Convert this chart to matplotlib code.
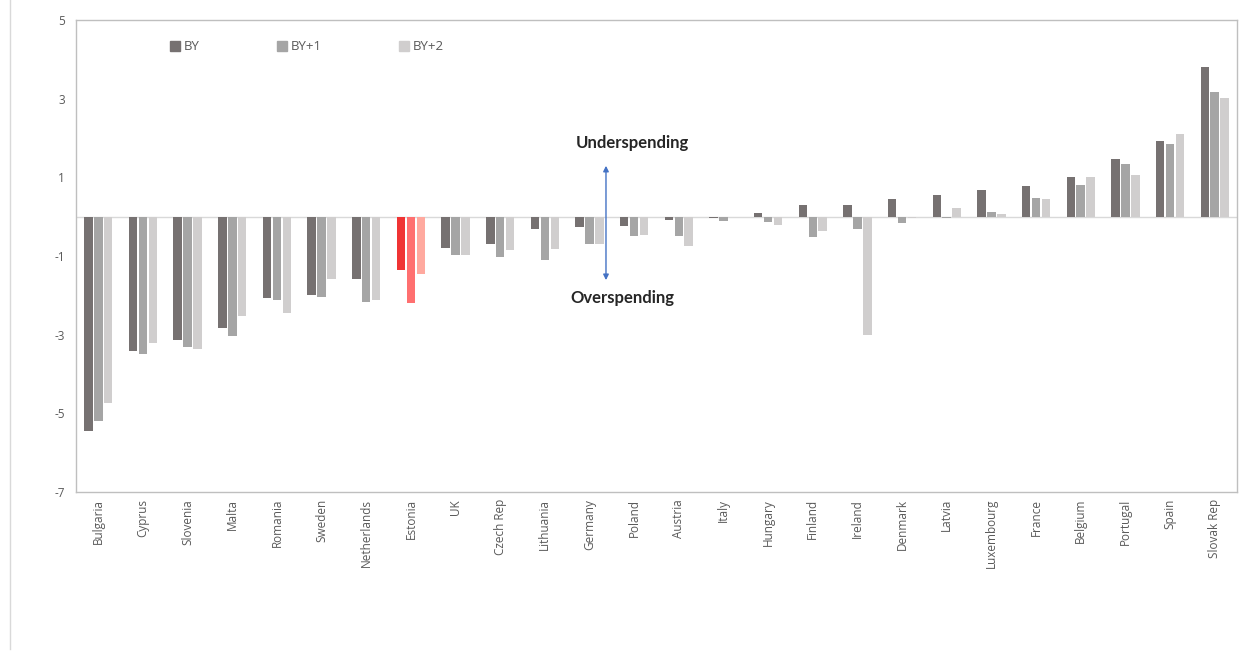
import numpy as np
import matplotlib.pyplot as plt
from matplotlib.lines import Line2D

countries = ['Bulgaria', 'Cyprus', 'Slovenia', 'Malta', 'Romania', 'Sweden', 'Netherlands',
             'Estonia', 'UK', 'Czech Rep', 'Lithuania', 'Germany', 'Poland', 'Austria', 'Italy',
             'Hungary', 'Finland', 'Ireland', 'Denmark', 'Latvia', 'Luxembourg', 'France',
             'Belgium', 'Portugal', 'Spain', 'Slovak Rep']
by = [-5.45, -3.42, -3.14, -2.83, -2.08, -2.00, -1.58, -1.36, -0.80, -0.69, -0.31, -0.26, -0.24,
      -0.09, -0.04, 0.09, 0.30, 0.30, 0.46, 0.54, 0.68, 0.79, 1.02, 1.47, 1.93, 3.80]
by1 = [-5.20, -3.50, -3.31, -3.03, -2.13, -2.05, -2.16, -2.20, -0.98, -1.02, -1.10, -0.69, -0.48,
       -0.50, -0.12, -0.13, -0.52, -0.32, -0.16, -0.04, 0.12, 0.48, 0.81, 1.35, 1.85, 3.16]
by2 = [-4.75, -3.20, -3.37, -2.53, -2.44, -1.58, -2.13, -1.46, -0.98, -0.84, -0.82, -0.69, -0.46,
       -0.74, 0.00, -0.21, -0.37, -3.00, -0.04, 0.23, 0.07, 0.45, 1.02, 1.07, 2.10, 3.02]
series_names = ['BY', 'BY+1', 'BY+2']
highlight = 'Estonia'

grey_cols = ['#767171', '#A5A5A5', '#D0CECE']
red_cols = ['#F03434', '#FF7070', '#FFA99F']

plt.rcParams['font.family'] = ['Open Sans', 'DejaVu Sans']
plt.rcParams['axes.unicode_minus'] = False

fig = plt.figure(figsize=(12.58, 6.69), dpi=100)
ax = fig.add_axes([0.0604, 0.2646, 0.9229, 0.7055])

x = np.arange(len(countries))
step = 0.222
w = 0.19
for i, vals in enumerate([by, by1, by2]):
    cols = [red_cols[i] if c == highlight else grey_cols[i] for c in countries]
    ax.bar(x + (i - 1) * step, vals, width=w, color=cols, zorder=3)

ax.set_xlim(-0.5, len(countries) - 0.5)
ax.set_ylim(-7, 5)
ax.set_yticks(np.arange(-7, 6, 2))
ax.set_xticks(x)
ax.set_xticklabels(countries, rotation=90, va='top')
ax.tick_params(axis='x', length=0, pad=5, labelsize=8.5, labelcolor='#595959')
ax.tick_params(axis='y', length=0, pad=8, labelsize=8.5, labelcolor='#595959')
for s in ax.spines.values():
    s.set_color('#BFBFBF')
    s.set_linewidth(1.0)
ax.axhline(0, color='#D9D9D9', lw=1, zorder=2)

handles = [Line2D([], [], marker='s', ls='none', color=c, markersize=6.5) for c in grey_cols]
ax.legend(handles, series_names, loc='upper left', bbox_to_anchor=(0.071, 0.982), ncol=3,
          frameon=False, fontsize=9.5, handletextpad=0.3, columnspacing=5.9,
          handlelength=0.7, labelcolor='#595959')

ax.annotate('', xy=(0.4565, 0.697), xytext=(0.4565, 0.443), xycoords='axes fraction',
            arrowprops=dict(arrowstyle='<|-|>', color='#4472C4', lw=1, mutation_scale=8))
ax.text(0.479, 0.739, 'Underspending', transform=ax.transAxes, ha='center', va='center',
        fontsize=12, fontweight='bold', family=['Lato', 'DejaVu Sans'], color='#262626')
ax.text(0.471, 0.411, 'Overspending', transform=ax.transAxes, ha='center', va='center',
        fontsize=12, fontweight='bold', family=['Lato', 'DejaVu Sans'], color='#262626')

fig.add_artist(Line2D([0.008, 0.008], [0.03, 1.0], transform=fig.transFigure,
                      color='#D9D9D9', lw=1))

fig.savefig('out.png', dpi=100)
